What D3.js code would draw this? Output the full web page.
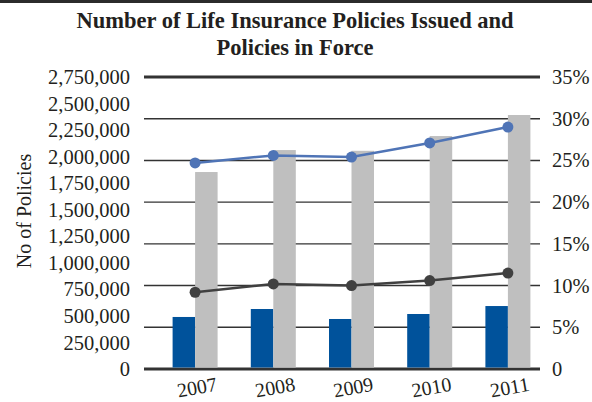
<!DOCTYPE html>
<html>
<head>
<meta charset="utf-8">
<script src="https://cdn.jsdelivr.net/npm/d3@7"></script>
<style>
  body { margin: 0; background: #fff; }
  text { font-family: "Liberation Serif", "DejaVu Serif", serif; fill: #231f20; }
</style>
</head>
<body>
<div id="container"></div>
<script>
let w = 592;
let h = 402;

// data
let years = ["2007", "2008", "2009", "2010", "2011"];
let issued = [490000, 565000, 471000, 518000, 593000];
let inForce = [1855000, 2062000, 2055000, 2194000, 2392000];
let pctUpper = [24.7, 25.6, 25.4, 27.1, 29.0];
let pctLower = [9.2, 10.2, 10.0, 10.6, 11.5];
let leftTicks = [0, 250000, 500000, 750000, 1000000, 1250000, 1500000, 1750000, 2000000, 2250000, 2500000, 2750000];
let rightTicks = [0, 5, 10, 15, 20, 25, 30, 35];

let viz = d3.select("#container").append("svg")
    .attr("width", w)
    .attr("height", h);

// top rule
viz.append("line")
  .attr("x1", 0).attr("x2", w)
  .attr("y1", 1.5).attr("y2", 1.5)
  .attr("stroke", "#2b2b2b")
  .attr("stroke-width", 3);

// title
let title = viz.append("text")
  .attr("text-anchor", "middle")
  .style("font-size", "22.5px")
  .style("font-weight", "bold");
title.append("tspan").attr("x", 295).attr("y", 28).text("Number of Life Insurance Policies Issued and");
title.append("tspan").attr("x", 295).attr("y", 55).text("Policies in Force");

let xScale = d3.scaleBand().domain(years).range([156, 547]);
let yLeft = d3.scaleLinear().domain([0, 2750000]).range([369, 77]);
let yRight = d3.scaleLinear().domain([0, 35]).range([369, 77]);

// gridlines on the right axis ticks
viz.append("g").selectAll("line")
  .data(rightTicks)
  .enter()
  .append("line")
  .attr("x1", 144).attr("x2", 540)
  .attr("y1", d => yRight(d)).attr("y2", d => yRight(d))
  .attr("stroke", "#333")
  .attr("stroke-width", d => (d == 0 || d == 35) ? 3 : 1.4);

// bars
let barW = 22.5;
viz.append("g").selectAll("rect")
  .data(years)
  .enter()
  .append("rect")
  .attr("x", d => xScale(d) + xScale.bandwidth() / 2 - barW)
  .attr("width", barW)
  .attr("y", (d, i) => yLeft(issued[i]))
  .attr("height", (d, i) => yLeft(0) - yLeft(issued[i]) - 1.5)
  .attr("fill", "#00529b");

viz.append("g").selectAll("rect")
  .data(years)
  .enter()
  .append("rect")
  .attr("x", d => xScale(d) + xScale.bandwidth() / 2)
  .attr("width", barW)
  .attr("y", (d, i) => yLeft(inForce[i]))
  .attr("height", (d, i) => yLeft(0) - yLeft(inForce[i]) - 1.5)
  .attr("fill", "#bfbfbf");

// lines on the right axis
function drawLine(values, color) {
  let pts = years.map((d, i) => [xScale(d) + xScale.bandwidth() / 2, yRight(values[i])]);
  viz.append("path")
    .attr("d", d3.line()(pts))
    .attr("fill", "none")
    .attr("stroke", color)
    .attr("stroke-width", 2.5);
  viz.append("g").selectAll("circle")
    .data(pts)
    .enter()
    .append("circle")
    .attr("cx", d => d[0])
    .attr("cy", d => d[1])
    .attr("r", 5.5)
    .attr("fill", color);
}
drawLine(pctUpper, "#4f74b6");
drawLine(pctLower, "#404040");

// left axis
let leftAxis = d3.axisLeft(yLeft).tickValues(leftTicks).tickSize(0).tickPadding(0).tickFormat(d3.format(","));
let leftGroup = viz.append("g").attr("transform", "translate(130,0)").call(leftAxis);
leftGroup.select(".domain").remove();
leftGroup.selectAll("text")
  .attr("dy", "0.32em")
  .style("font-family", "Liberation Serif, serif")
  .style("font-size", "20.5px")
  .attr("fill", "#231f20");

// right axis
let rightAxis = d3.axisRight(yRight).tickValues(rightTicks).tickSize(0).tickPadding(0)
  .tickFormat(d => d == 0 ? "0" : d + "%");
let rightGroup = viz.append("g").attr("transform", "translate(552,0)").call(rightAxis);
rightGroup.select(".domain").remove();
rightGroup.selectAll("text")
  .attr("dy", "0.32em")
  .style("font-family", "Liberation Serif, serif")
  .style("font-size", "20.5px")
  .attr("fill", "#231f20");

// x labels, slightly tilted
viz.append("g").selectAll("text")
  .data(years)
  .enter()
  .append("text")
  .attr("text-anchor", "middle")
  .attr("transform", d => "translate(" + (xScale(d) + xScale.bandwidth() / 2 + 3) + ",394) rotate(-10)")
  .style("font-size", "20px")
  .text(d => d);

// y axis title
viz.append("text")
  .attr("text-anchor", "middle")
  .attr("transform", "translate(31,211) rotate(-90)")
  .style("font-size", "20px")
  .text("No of Policies");
</script>
</body>
</html>
